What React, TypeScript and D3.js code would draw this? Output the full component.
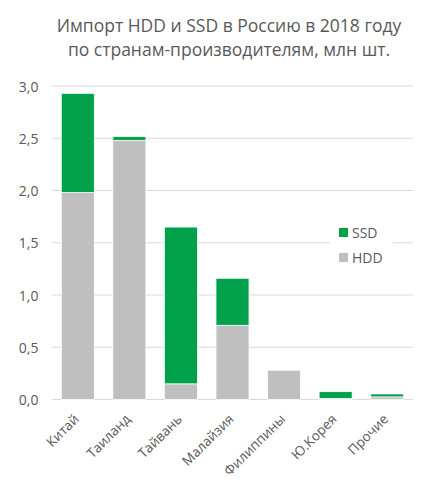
import React from "react";
import * as d3 from "d3";

const categories = ["Китай", "Таиланд", "Тайвань", "Малайзия", "Филиппины", "Ю.Корея", "Прочие"];
const hdd = [1.98, 2.48, 0.15, 0.71, 0.28, 0.01, 0.025];
const ssd = [0.95, 0.035, 1.5, 0.45, 0, 0.065, 0.028];
const yTicks = [0, 0.5, 1, 1.5, 2, 2.5, 3];
const seriesNames = ["HDD", "SSD"];
const colors = ["#BFBFBF", "#00A14B"];

const W = 429, H = 485;
const left = 52, right = 413, top = 86, bottom = 399.5;
const font = "Open Sans, sans-serif";
const textColor = "#595959";

export default function App() {
  const x = d3.scaleBand<string>().domain(categories).range([left, right]).paddingInner(0.36).paddingOuter(0.18);
  const y = d3.scaleLinear().domain([0, 3]).range([bottom, top]);
  const rows = categories.map((c, i) => ({ cat: c, HDD: hdd[i], SSD: ssd[i] }));
  const stacked = d3.stack<any>().keys(seriesNames)(rows);
  const fmt = (v: number) => v.toFixed(1).replace(".", ",");
  return (
    <svg width={W} height={H} style={{ position: "absolute", left: 0, top: 0, background: "#fff" }}>
      <rect width={W} height={H} fill="#fff" />
      <text x={229} y={32} textAnchor="middle" fontFamily={font} fontSize={17.5} fill={textColor}>
        Импорт HDD и SSD в Россию в 2018 году
      </text>
      <text x={229} y={56} textAnchor="middle" fontFamily={font} fontSize={17.5} fill={textColor}>
        по странам-производителям, млн шт.
      </text>
      {yTicks.map((t) => (
        <g key={t}>
          <line x1={left} x2={right} y1={y(t)} y2={y(t)} stroke="#D9D9D9" strokeWidth={1} />
          <text x={38.5} y={y(t) + 5.5} textAnchor="end" fontFamily={font} fontSize={14} fill={textColor}>
            {fmt(t)}
          </text>
        </g>
      ))}
      {stacked.map((s, si) => (
        <g key={s.key} fill={colors[si]}>
          {s.map((d, i) =>
            d[1] - d[0] > 0 ? (
              <rect
                key={i}
                x={x(categories[i])!}
                width={x.bandwidth()}
                y={y(d[1])}
                height={y(d[0]) - y(d[1])}
                stroke="#fff"
                strokeWidth={0.75}
              />
            ) : null
          )}
        </g>
      ))}
      {categories.map((c) => {
        const cx = x(c)! + x.bandwidth() / 2 + 2;
        const cy = 420;
        return (
          <text
            key={c}
            transform={`translate(${cx},${cy}) rotate(-45)`}
            textAnchor="end"
            fontFamily={font}
            fontSize={13.5}
            fill={textColor}
          >
            {c}
          </text>
        );
      })}
      <rect x={330} y={222} width={63} height={48} fill="#fff" />
      {["SSD", "HDD"].map((n, i) => (
        <g key={n}>
          <rect x={339} y={228 + i * 25} width={9} height={9} fill={n === "SSD" ? colors[1] : colors[0]} />
          <text x={352} y={238 + i * 25} fontFamily={font} fontSize={14} fill={textColor}>
            {n}
          </text>
        </g>
      ))}
    </svg>
  );
}
